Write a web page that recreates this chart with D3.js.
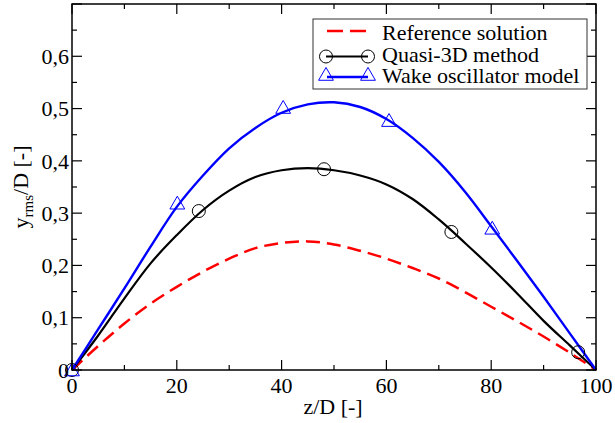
<!DOCTYPE html>
<html><head><meta charset="utf-8">
<script src="https://cdn.jsdelivr.net/npm/d3@7"></script>
<style>body{margin:0;background:#fff}svg{display:block}</style>
</head><body><svg id="c" width="615" height="423"></svg>
<script>
const zGrid = [0,5,10,15,20,25,30,35,40,45,50,55,60,65,70,75,80,85,90,95,100];
const refSolution = [0,0.046,0.089,0.127,0.159,0.188,0.213,0.233,0.243,0.246,0.240,0.228,0.213,0.195,0.175,0.149,0.121,0.093,0.064,0.033,0];
const quasi3D = [0,0.066,0.137,0.204,0.258,0.306,0.343,0.369,0.382,0.386,0.382,0.372,0.355,0.327,0.288,0.243,0.196,0.146,0.094,0.047,0];
const wakeOsc = [0,0.078,0.156,0.236,0.312,0.372,0.424,0.463,0.492,0.508,0.512,0.503,0.480,0.444,0.398,0.341,0.275,0.208,0.140,0.070,0];
const quasiMarkZ = [0,24.2,48.1,72.4,96.6];
const quasiMarkY = [0,0.304,0.384,0.264,0.034];
const wakeMarkZ = [0,20.1,40.3,60.5,80.2];
const wakeMarkY = [0,0.319,0.502,0.477,0.271];
const xTicks = [0,20,40,60,80,100];
const yTicks = [0,0.1,0.2,0.3,0.4,0.5,0.6];
const legendLabels = ["Reference solution","Quasi-3D method","Wake oscillator model"];

const svg = d3.select("#c");
const x = d3.scaleLinear().domain([0,100]).range([72,596]);
const y = d3.scaleLinear().domain([0,0.7]).range([370,4]);
const txt = (sel) => sel.style("font-family", '"Liberation Serif"').style("font-size", "22px");

// curves
const line = (arr) => d3.line().x((d,i)=>x(zGrid[i])).y(d=>y(d)).curve(d3.curveCatmullRom.alpha(0.5))(arr);
svg.append("path").attr("d", line(refSolution)).attr("fill","none").attr("stroke","#ff0000").attr("stroke-width",2.5).attr("stroke-dasharray","14,7");
svg.append("path").attr("d", line(quasi3D)).attr("fill","none").attr("stroke","#000").attr("stroke-width",2.2);
svg.append("path").attr("d", line(wakeOsc)).attr("fill","none").attr("stroke","#0000ff").attr("stroke-width",2.4);

const tri = d3.symbol().type(d3.symbolTriangle).size(95);
svg.selectAll(".qm").data(quasiMarkZ).enter().append("circle")
  .attr("cx",(d)=>x(d)).attr("cy",(d,i)=>y(quasiMarkY[i])).attr("r",6.5)
  .attr("fill","none").attr("stroke","#000").attr("stroke-width",1);
svg.selectAll(".wm").data(wakeMarkZ).enter().append("path")
  .attr("d",tri).attr("transform",(d,i)=>`translate(${x(d)},${y(wakeMarkY[i])+1.5})`)
  .attr("fill","none").attr("stroke","#0000ff").attr("stroke-width",1);

// frame
svg.append("rect").attr("x",x(0)).attr("y",y(0.7)).attr("width",x(100)-x(0)).attr("height",y(0)-y(0.7))
  .attr("fill","none").attr("stroke","#000").attr("stroke-width",1.5);

// ticks
const g = svg.append("g").attr("stroke","#000").attr("stroke-width",1.2);
d3.range(0,101,10).forEach(v=>{
  const L = v%20===0?10:5;
  g.append("line").attr("x1",x(v)).attr("x2",x(v)).attr("y1",y(0)).attr("y2",y(0)-L);
  g.append("line").attr("x1",x(v)).attr("x2",x(v)).attr("y1",y(0.7)).attr("y2",y(0.7)+L);
});
d3.range(0,15).forEach(k=>{
  const v = k*0.05; const L = k%2===0?10:5;
  g.append("line").attr("y1",y(v)).attr("y2",y(v)).attr("x1",x(0)).attr("x2",x(0)+L);
  g.append("line").attr("y1",y(v)).attr("y2",y(v)).attr("x1",x(100)).attr("x2",x(100)-L);
});

// tick labels
svg.selectAll(".xt").data(xTicks).enter().append("text")
  .attr("x",d=>x(d)).attr("y",393).attr("text-anchor","middle").call(txt).text(d=>d);
svg.selectAll(".yt").data(yTicks).enter().append("text")
  .attr("x",69).attr("y",d=>y(d)).attr("dy","0.35em").attr("text-anchor","end").call(txt)
  .text(d=>d===0?"0":d3.format(".1f")(d).replace(".",","));

// axis labels
svg.append("text").attr("x",333).attr("y",414).attr("text-anchor","middle").call(txt).text("z/D [-]");
const yl = svg.append("text").attr("transform","translate(28,187) rotate(-90)").attr("text-anchor","middle").call(txt);
yl.append("tspan").text("y");
yl.append("tspan").style("font-size","15px").attr("dy",5).text("rms");
yl.append("tspan").attr("dy",-5).text("/D [-]");

// legend
svg.append("rect").attr("x",313).attr("y",19).attr("width",274).attr("height",70)
  .attr("fill","#fff").attr("stroke","#333").attr("stroke-width",1);
const rows = [31,56.5,76];
const base = [40,62,83];
svg.append("line").attr("x1",327).attr("x2",368).attr("y1",rows[0]).attr("y2",rows[0])
  .attr("stroke","#ff0000").attr("stroke-width",2.5).attr("stroke-dasharray","16,7");
svg.append("line").attr("x1",326).attr("x2",368).attr("y1",rows[1]).attr("y2",rows[1]).attr("stroke","#000").attr("stroke-width",2.2);
[326,368].forEach(cx=>svg.append("circle").attr("cx",cx).attr("cy",rows[1]).attr("r",6.5).attr("fill","none").attr("stroke","#000"));
svg.append("line").attr("x1",327).attr("x2",368).attr("y1",rows[2]+1).attr("y2",rows[2]+1).attr("stroke","#0000ff").attr("stroke-width",2.4);
[326,368].forEach(cx=>svg.append("path").attr("d",tri).attr("transform",`translate(${cx},${rows[2]})`).attr("fill","none").attr("stroke","#0000ff"));
legendLabels.forEach((t,i)=>svg.append("text").attr("x",382).attr("y",base[i]).call(txt).text(t));
</script></body></html>
